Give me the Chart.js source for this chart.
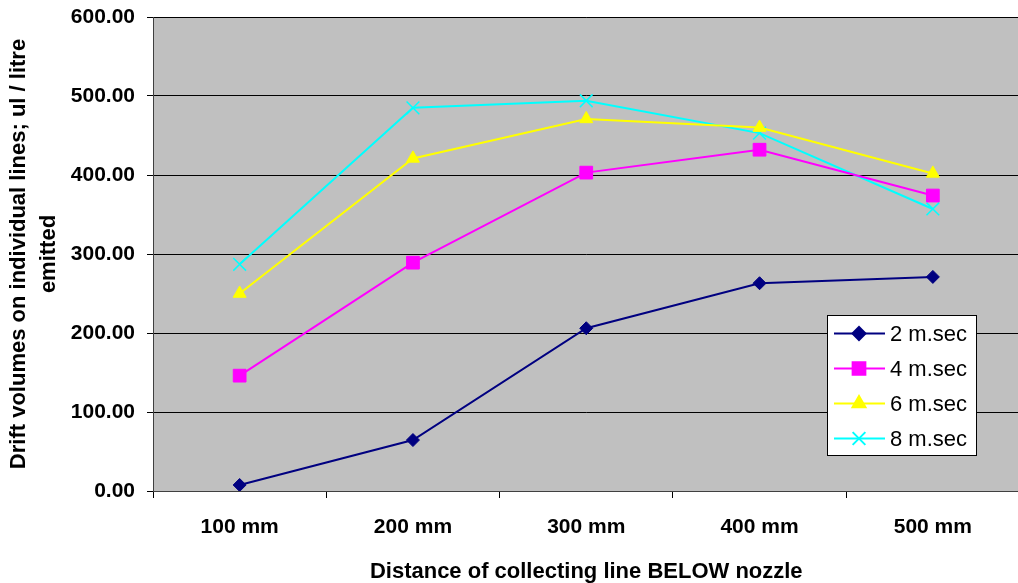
<!DOCTYPE html>
<html>
<head>
<meta charset="utf-8">
<script src="https://cdn.jsdelivr.net/npm/chart.js@4.4.0/dist/chart.umd.min.js"></script>
<style>
  html, body { margin: 0; padding: 0; background: #fff; overflow: hidden; }
  #wrap { width: 1030px; height: 583px; }
</style>
</head>
<body>
<div id="wrap"><canvas id="drift" width="1030" height="583"></canvas></div>
<script>
// distances and drift volumes (ul / litre) per spray time
const distances = ['100 mm', '200 mm', '300 mm', '400 mm', '500 mm']
const sec2 = [7.6, 64.5, 206, 263, 271]
const sec4 = [146, 289, 403, 432, 374]
const sec6 = [250, 421, 471, 460, 402]
const sec8 = [287, 485, 494, 453, 357]
const seriesNames = ['2 m.sec', '4 m.sec', '6 m.sec', '8 m.sec']
const yTicks = [0, 100, 200, 300, 400, 500, 600]

const FONT = 'Arial, "Liberation Sans", sans-serif'

const styles = [
  { color: '#000080', point: 'rectRot', radius: 6.5 },
  { color: '#ff00ff', point: 'rect', radius: 9 },
  { color: '#ffff00', point: 'triangle', radius: 7.5 },
  { color: '#00ffff', point: 'crossRot', radius: 9 }
]

// grey plot background + top border
const plotBg = {
  id: 'plotBg',
  beforeDraw(chart) {
    const { ctx, chartArea: a } = chart
    ctx.save()
    ctx.fillStyle = '#c0c0c0'
    ctx.fillRect(a.left, a.top, a.right - a.left, a.bottom - a.top)
    ctx.strokeStyle = '#808080'
    ctx.lineWidth = 1
    ctx.beginPath()
    ctx.moveTo(a.left, a.top + 0.5)
    ctx.lineTo(a.right, a.top + 0.5)
    ctx.stroke()
    ctx.restore()
  }
}

// legend box inside the plot, like the excel one
const boxLegend = {
  id: 'boxLegend',
  afterDraw(chart) {
    const { ctx } = chart
    const x = 827, y = 315, w = 149, h = 140
    ctx.save()
    ctx.fillStyle = '#fff'
    ctx.fillRect(x, y, w, h)
    ctx.strokeStyle = '#000'
    ctx.lineWidth = 1
    ctx.strokeRect(x + 0.5, y + 0.5, w, h)
    chart.data.datasets.forEach((ds, i) => {
      const cy = 333.5 + i * 35
      ctx.strokeStyle = ds.borderColor
      ctx.lineWidth = ds.borderWidth
      ctx.beginPath()
      ctx.moveTo(834, cy)
      ctx.lineTo(885, cy)
      ctx.stroke()
      ctx.fillStyle = ds.borderColor
      ctx.strokeStyle = ds.borderColor
      Chart.helpers.drawPoint(ctx, {
        pointStyle: ds.pointStyle,
        radius: ds.pointRadius,
        borderWidth: ds.pointBorderWidth,
        rotation: 0
      }, 859, cy)
      ctx.fillStyle = '#000'
      ctx.font = '22px ' + FONT
      ctx.textBaseline = 'middle'
      ctx.textAlign = 'left'
      ctx.fillText(ds.label, 890, cy + 1)
    })
    ctx.restore()
  }
}

const allData = [sec2, sec4, sec6, sec8]

new Chart(document.getElementById('drift'), {
  type: 'line',
  data: {
    labels: distances,
    datasets: allData.map((d, i) => ({
      label: seriesNames[i],
      data: d,
      borderColor: styles[i].color,
      backgroundColor: styles[i].color,
      pointBackgroundColor: styles[i].color,
      pointBorderColor: styles[i].color,
      pointStyle: styles[i].point,
      pointRadius: styles[i].radius,
      pointBorderWidth: styles[i].point === 'crossRot' ? 1.5 : 1,
      borderWidth: 2,
      tension: 0,
      fill: false
    }))
  },
  options: {
    responsive: false,
    animation: false,
    devicePixelRatio: 1,
    layout: { padding: { top: 17, right: 2, left: 0, bottom: 0 } },
    plugins: {
      legend: { display: false },
      tooltip: { enabled: false }
    },
    scales: {
      x: {
        offset: true,
        grid: {
          offset: true,
          drawOnChartArea: false,
          drawTicks: true,
          tickLength: 7,
          color: '#000'
        },
        border: { color: '#404040', width: 1 },
        ticks: {
          color: '#000',
          font: { family: FONT, size: 21, weight: 'bold' },
          padding: 17,
          maxRotation: 0,
          autoSkip: false
        },
        title: {
          display: true,
          text: 'Distance of collecting line BELOW nozzle',
          color: '#000',
          font: { family: FONT, size: 22, weight: 'bold', lineHeight: 1 },
          padding: { top: 0, bottom: 0 }
        },
        afterFit(scale) {
          scale.height = 92
          scale.paddingLeft = 0
          scale.paddingRight = 0
        }
      },
      y: {
        min: 0,
        max: 600,
        afterBuildTicks(scale) { scale.ticks = yTicks.map(v => ({ value: v })) },
        grid: {
          color: '#000',
          lineWidth: 1,
          tickLength: 6,
          drawTicks: true
        },
        border: { color: '#404040', width: 1 },
        ticks: {
          color: '#000',
          font: { family: FONT, size: 21, weight: 'bold' },
          padding: 12,
          autoSkip: false,
          callback: v => Number(v).toFixed(2)
        },
        title: {
          display: true,
          text: ['Drift volumes on individual lines; ul / litre', 'emitted'],
          color: '#000',
          font: { family: FONT, size: 22, weight: 'bold', lineHeight: 1.35 },
          padding: { top: 4, bottom: 0 }
        },
        afterFit(scale) {
          scale.width = 153
          scale.paddingTop = 0
          scale.paddingBottom = 0
        }
      }
    }
  },
  plugins: [plotBg, boxLegend]
})
</script>
</body>
</html>
